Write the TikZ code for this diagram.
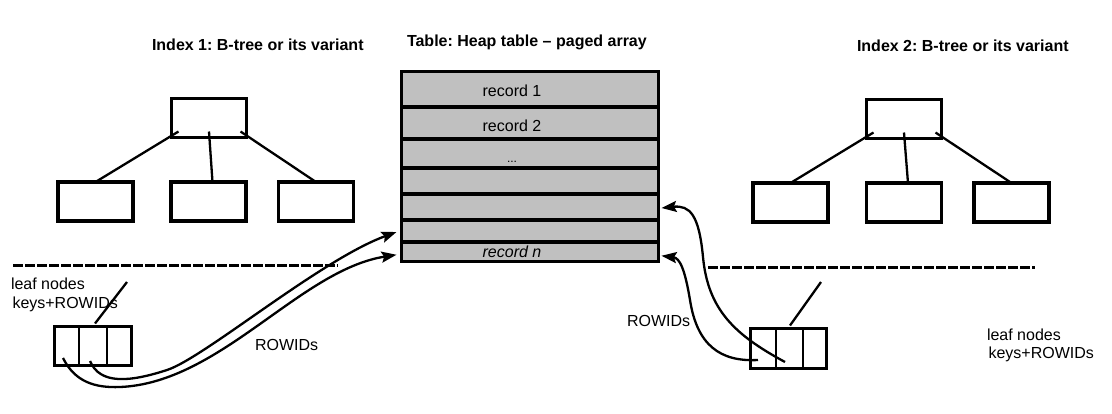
\documentclass[tikz,border=0pt]{standalone}
\usepackage{fontspec}
\setmainfont{Liberation Sans}
\usetikzlibrary{arrows.meta,calc}
\frenchspacing
\begin{document}
\begin{tikzpicture}[x=1bp,y=-1bp,
  every node/.style={font=\fontsize{16bp}{21bp}\selectfont, inner sep=0pt, outer sep=0pt},
  treebox/.style={draw, line width=3.5bp, minimum width=75bp, minimum height=39bp},
  leafbox/.style={draw, line width=3.5bp, minimum width=77bp, minimum height=39bp},
  rowbox/.style={draw, fill={rgb,255:red,192;green,192;blue,192}, line width=3.2bp, minimum width=257bp},
  edge/.style={line width=2.3bp},
  divider/.style={line width=2bp},
  sep/.style={line width=3bp, dash pattern=on 10bp off 2bp},
  ptr/.style={line width=2.3bp, -{Stealth[length=15bp,width=11bp,inset=2.5bp]}},
  ttl/.style={font=\fontsize{16bp}{21bp}\selectfont\bfseries, anchor=base west},
  lbl/.style={anchor=base west},
]
\useasboundingbox (0,0) rectangle (1112,413);

% titles
\node[ttl] (t1) at (152,50.7) {Index 1: B-tree or its variant};
\node[ttl] (t2) at (407,46) {Table: Heap table -- paged array};
\node[ttl] (t3) at (857,51.7) {Index 2: B-tree or its variant};

% left tree
\node[treebox] (lr) at (209,118) {};
\node[treebox] (lc1) at (95.5,201.5) {};
\node[treebox] (lc2) at (208.5,201.5) {};
\node[treebox] (lc3) at (316,201.5) {};
\draw[edge] ($(lr.south west)+(7,-6)$) -- (lc1.north);
\draw[edge] ($(lr.south)+(0,-6)$) -- ($(lc2.north)+(4,0)$);
\draw[edge] ($(lr.south east)+(-6,-6)$) -- (lc3.north);

% right tree
\node[treebox] (rr) at (904,119) {};
\node[treebox] (rc1) at (790.5,202.5) {};
\node[treebox] (rc2) at (904,202.5) {};
\node[treebox] (rc3) at (1011.5,202.5) {};
\draw[edge] ($(rr.south west)+(7,-6)$) -- (rc1.north);
\draw[edge] ($(rr.south)+(0,-6)$) -- ($(rc2.north)+(4,0)$);
\draw[edge] ($(rr.south east)+(-6,-6)$) -- (rc3.north);

% table
\node[rowbox, minimum height=35.5bp] (r1) at (530,89.25) {};
\node[rowbox, minimum height=32bp] (r2) at (530,123) {};
\node[rowbox, minimum height=29bp] (r3) at (530,153.5) {};
\node[rowbox, minimum height=26bp] (r4) at (530,181) {};
\node[rowbox, minimum height=26bp] (r5) at (530,207) {};
\node[rowbox, minimum height=22bp] (r6) at (530,231) {};
\node[rowbox, minimum height=19.5bp] (r7) at (530,251.75) {};
\node[anchor=base] (x1) at (512,96) {record 1};
\node[anchor=base] (x2) at (512,131) {record 2};
\node[anchor=base, font=\fontsize{12bp}{14bp}\selectfont] (x3) at (512,162) {...};
\node[anchor=base] (x7) at (512,257) {\itshape record n};

% separators
\coordinate (ls1) at (13,265);
\coordinate (ls2) at (338,265);
\draw[sep] (ls1) -- (ls2);
\coordinate (rs1) at (708,267);
\coordinate (rs2) at (1035,267);
\draw[sep] (rs1) -- (rs2);

% left leaf
\node[leafbox] (ll) at (93,346) {};
\draw[divider] ($(ll.north west)!0.32!(ll.north east)$) -- ($(ll.south west)!0.32!(ll.south east)$);
\draw[divider] ($(ll.north west)!0.68!(ll.north east)$) -- ($(ll.south west)!0.68!(ll.south east)$);
\coordinate (lup) at (127,282);
\draw[edge] ($(ll.north)+(2,-3)$) -- (lup);
\node[lbl] (ln1) at (11,289) {leaf nodes};
\node[lbl] (ln2) at (12.5,308) {keys+ROWIDs};
\node[lbl] (lrow) at (255,350.7) {ROWIDs};

% right leaf
\node[leafbox, minimum width=76bp, minimum height=40bp] (rl) at (788.5,348.5) {};
\draw[divider] ($(rl.north west)!0.33!(rl.north east)$) -- ($(rl.south west)!0.33!(rl.south east)$);
\draw[divider] ($(rl.north west)!0.69!(rl.north east)$) -- ($(rl.south west)!0.69!(rl.south east)$);
\coordinate (rup) at (821,282);
\draw[edge] ($(rl.north)+(1.5,-3)$) -- (rup);
\node[lbl] (rn1) at (987,340) {leaf nodes};
\node[lbl] (rn2) at (988.5,358) {keys+ROWIDs};
\node[lbl] (rrow) at (627,326.7) {ROWIDs};

% pointers
\coordinate (a1) at (90,361);
\coordinate (a2) at (63,358);
\coordinate (b1) at (785,362);
\coordinate (b2) at (758,360);
\draw[ptr] (a1) .. controls (100,385) and (130,382) .. (167,370)
  .. controls (204,358) and (320,260) .. ($(r6.west)+(-5,1)$);
\draw[ptr] (a2) .. controls (75,382) and (95,388) .. (120,387)
  .. controls (220,383) and (300,270) .. ($(r7.west)+(-5,3)$);
\draw[ptr] (b1) .. controls (735,335) and (708,310) .. (703,257)
  .. controls (699,215) and (690,205) .. ($(r5.east)+(3,1)$);
\draw[ptr] (b2) .. controls (720,362) and (697,345) .. (690,300)
  .. controls (685,270) and (680,258) .. ($(r7.east)+(3,4)$);
\end{tikzpicture}
\end{document}
